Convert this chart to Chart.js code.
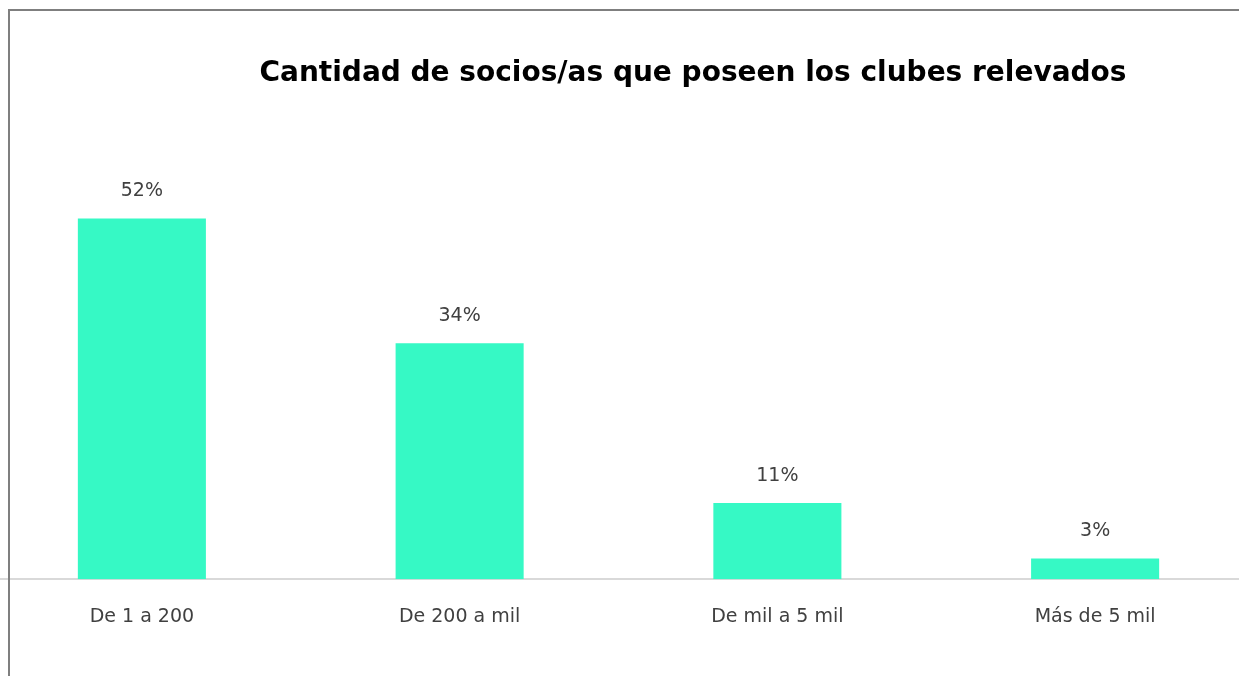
<!DOCTYPE html>
<html>
<head>
<meta charset="utf-8">
<script src="https://cdn.jsdelivr.net/npm/chart.js@4/dist/chart.umd.min.js"></script>
<style>
  html, body { margin: 0; padding: 0; background: #fff; overflow: hidden; }
  #marco { position: absolute; left: 0; top: 0; width: 1239px; height: 676px; overflow: hidden; }
  #lienzo { position: absolute; left: -17px; top: 0; width: 1420px; height: 676px; }
  #bordeSup { position: absolute; left: 8px; top: 9px; width: 1231px; height: 2px; background: #7f7f7f; z-index: 2; }
  #bordeIzq { position: absolute; left: 8px; top: 9px; width: 2px; height: 667px; background: #7f7f7f; z-index: 2; }
</style>
</head>
<body>
<div id="marco">
  <div id="lienzo"><canvas id="myChart"></canvas></div>
  <div id="bordeSup"></div>
  <div id="bordeIzq"></div>
</div>
<script>
const categorias = ['De 1 a 200', 'De 200 a mil', 'De mil a 5 mil', 'Más de 5 mil'];
const porcentajes = [52, 34, 11, 3];
const titulo = 'Cantidad de socios/as que poseen los clubes relevados';

const fuente = "'DejaVu Sans', sans-serif";

// etiquetas de valor encima de cada barra
const etiquetasValor = {
    id: 'etiquetasValor',
    afterDatasetsDraw(chart) {
        const ctx = chart.ctx;
        const meta = chart.getDatasetMeta(0);
        ctx.save();
        ctx.font = "19px " + fuente;
        ctx.fillStyle = '#404040';
        ctx.textAlign = 'center';
        ctx.textBaseline = 'middle';
        meta.data.forEach((bar, i) => {
            ctx.fillText(porcentajes[i] + '%', bar.x, bar.y - 27);
        });
        ctx.restore();
    }
};

const ctx = document.getElementById('myChart').getContext('2d');
const myChart = new Chart(ctx, {
    type: 'bar',
    data: {
        labels: categorias,
        datasets: [{
            data: porcentajes,
            backgroundColor: '#36F9C5',
            borderWidth: 0,
            barPercentage: 1,
            categoryPercentage: 0.403
        }]
    },
    options: {
        responsive: true,
        maintainAspectRatio: false,
        animation: false,
        layout: {
            padding: { left: 0, right: 0, top: 0, bottom: 22 }
        },
        plugins: {
            legend: { display: false },
            tooltip: { enabled: false },
            title: {
                display: true,
                text: titulo,
                color: '#000',
                font: { family: fuente, size: 28, weight: 'bold', lineHeight: 1.2 },
                padding: { top: 57, bottom: 3 }
            }
        },
        scales: {
            x: {
                grid: { display: false, drawTicks: false },
                border: { display: true, color: '#d9d9d9', width: 2 },
                ticks: {
                    color: '#404040',
                    font: { family: fuente, size: 19 },
                    padding: 26,
                    maxRotation: 0
                }
            },
            y: {
                position: 'right',
                min: 0,
                max: 70,
                display: true,
                grid: { display: false },
                border: { display: false },
                ticks: { display: false },
                afterFit(scale) { scale.width = 149; }
            }
        }
    },
    plugins: [etiquetasValor]
});
</script>
</body>
</html>
